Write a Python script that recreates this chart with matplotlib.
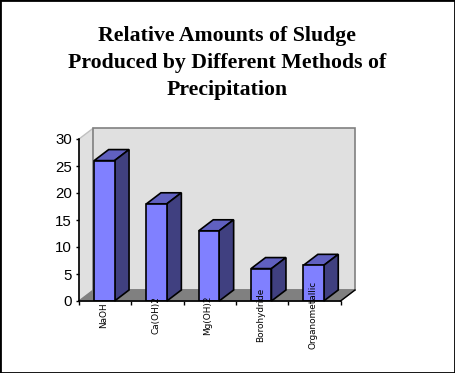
import matplotlib
matplotlib.use("Agg")
import matplotlib.pyplot as plt
from matplotlib.patches import Rectangle

categories = ["NaOH", "Ca(OH)2", "Mg(OH)2", "Borohydride", "Organometallic"]
sludge = [26, 18, 13, 6, 6.6]
yticks = [0, 5, 10, 15, 20, 25, 30]
title = "Relative Amounts of Sludge\nProduced by Different Methods of\nPrecipitation"

W, H = 455, 373
DX = 0.277   # depth of the fake 3D, in category units
DY = 2.04    # same, in value units
BAR_W = 0.39

fig = plt.figure(figsize=(W / 100, H / 100), dpi=100, facecolor="white")
ax = fig.add_axes([79 / W, (H - 301) / H, 261.5 / W, 162 / H])
ax.set_xlim(0, len(categories))
ax.set_ylim(0, 30)
ax.patch.set_visible(False)

# border round the whole picture
fig.add_artist(Rectangle((0, 0), 1, 1, transform=fig.transFigure, fill=False,
                         edgecolor="black", linewidth=2))

# walls and floor
n = len(categories)
top = yticks[-1]
ax.fill([0, DX, DX, 0], [0, DY, top + DY, top], fc="#E0E0E0", ec="#C0C0C0", lw=1, clip_on=False, zorder=1)
ax.fill([DX, n + DX, n + DX, DX], [DY, DY, top + DY, top + DY], fc="#E0E0E0", ec="#808080", lw=1.2, clip_on=False, zorder=1)
ax.fill([0, n, n + DX, DX], [0, 0, DY, DY], fc="#808080", ec="#808080", lw=1, clip_on=False, zorder=2)
ax.plot([n, n + DX], [0, DY], color="black", lw=1, clip_on=False, zorder=2)

# bars, front face through bar() and the sides drawn on top of it
centers = [i + 0.485 for i in range(n)]
ax.bar(centers, sludge, width=BAR_W, color="#8080FF", edgecolor="black", linewidth=1.2, zorder=4)
for c, v in zip(centers, sludge):
    left = c - BAR_W / 2
    right = c + BAR_W / 2
    ax.fill([left, right, right + DX, left + DX], [v, v, v + DY, v + DY],
            fc="#6060C0", ec="black", lw=1.2, zorder=3, clip_on=False)
    ax.fill([right, right + DX, right + DX, right], [0, DY, v + DY, v],
            fc="#404080", ec="black", lw=1.2, zorder=3, clip_on=False)

for side in ["top", "right"]:
    ax.spines[side].set_visible(False)
for side in ["left", "bottom"]:
    ax.spines[side].set_linewidth(1.2)
    ax.spines[side].set_zorder(5)

ax.set_yticks(yticks)
ax.set_xticks(range(n + 1))
ax.set_xticklabels([])
ax.tick_params(axis="x", length=3, width=1)
ax.tick_params(axis="y", length=2, width=1, pad=3, labelsize=10.8)
for lab in ax.get_yticklabels():
    lab.set_family("Liberation Sans")

# category labels, centred on one line below the axis and over the bars
for c, name in zip(centers, categories):
    ax.text(c - 0.02, -2.6, name, rotation=90, ha="center", va="center", fontsize=6.4,
            family="DejaVu Sans", color="black", clip_on=False, zorder=6)

fig.text(0.5, (H - 63) / H, title, ha="center", va="center", fontsize=15.7, fontweight="bold",
         family="Liberation Serif", color="black", linespacing=1.45)

fig.savefig("out.png", dpi=100)
